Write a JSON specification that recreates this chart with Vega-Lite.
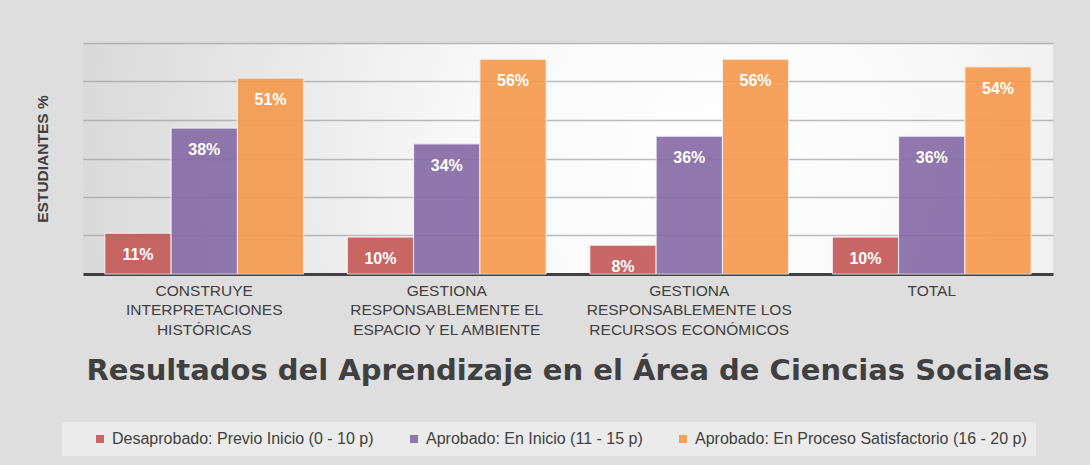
{
  "$schema": "https://vega.github.io/schema/vega-lite/v6.json",
  "autosize": {"type": "none"},
  "width": 970,
  "height": 231,
  "padding": {"left": 83, "top": 43, "right": 37, "bottom": 191},
  "background": "#dedede",
  "title": {
    "text": "Resultados del Aprendizaje en el Área de Ciencias Sociales",
    "orient": "bottom",
    "anchor": "middle",
    "font": "DejaVu Sans",
    "fontSize": 29,
    "fontWeight": "bold",
    "color": "#404040",
    "offset": -99
  },
  "config": {
    "view": {"stroke": null, "fill": {"gradient": "radial", "x1": 0.65, "y1": 0.5, "r1": 0, "x2": 0.65, "y2": 0.5, "r2": 0.75, "stops": [{"offset": 0, "color": "#ffffff"}, {"offset": 0.35, "color": "#f8f8f8"}, {"offset": 1, "color": "#d2d2d2"}]}},
    "font": "Liberation Sans"
  },
  "data": {
    "values": [
      {"comp": "CONSTRUYE|INTERPRETACIONES|HISTÓRICAS", "nivel": "Desaprobado: Previo Inicio (0 - 10 p)", "v": 0.106},
      {"comp": "CONSTRUYE|INTERPRETACIONES|HISTÓRICAS", "nivel": "Aprobado: En Inicio (11 - 15 p)", "v": 0.379},
      {"comp": "CONSTRUYE|INTERPRETACIONES|HISTÓRICAS", "nivel": "Aprobado: En Proceso Satisfactorio (16 - 20 p)", "v": 0.509},
      {"comp": "GESTIONA|RESPONSABLEMENTE EL|ESPACIO Y EL AMBIENTE", "nivel": "Desaprobado: Previo Inicio (0 - 10 p)", "v": 0.096},
      {"comp": "GESTIONA|RESPONSABLEMENTE EL|ESPACIO Y EL AMBIENTE", "nivel": "Aprobado: En Inicio (11 - 15 p)", "v": 0.338},
      {"comp": "GESTIONA|RESPONSABLEMENTE EL|ESPACIO Y EL AMBIENTE", "nivel": "Aprobado: En Proceso Satisfactorio (16 - 20 p)", "v": 0.558},
      {"comp": "GESTIONA|RESPONSABLEMENTE LOS|RECURSOS ECONÓMICOS", "nivel": "Desaprobado: Previo Inicio (0 - 10 p)", "v": 0.075},
      {"comp": "GESTIONA|RESPONSABLEMENTE LOS|RECURSOS ECONÓMICOS", "nivel": "Aprobado: En Inicio (11 - 15 p)", "v": 0.358},
      {"comp": "GESTIONA|RESPONSABLEMENTE LOS|RECURSOS ECONÓMICOS", "nivel": "Aprobado: En Proceso Satisfactorio (16 - 20 p)", "v": 0.558},
      {"comp": "TOTAL", "nivel": "Desaprobado: Previo Inicio (0 - 10 p)", "v": 0.096},
      {"comp": "TOTAL", "nivel": "Aprobado: En Inicio (11 - 15 p)", "v": 0.358},
      {"comp": "TOTAL", "nivel": "Aprobado: En Proceso Satisfactorio (16 - 20 p)", "v": 0.538}
    ]
  },
  "encoding": {
    "x": {
      "field": "comp", "type": "nominal", "sort": null,
      "scale": {"paddingInner": 0.18, "paddingOuter": 0.09},
      "axis": {
        "title": null, "labelAngle": 0, "labelExpr": "split(datum.label, '|')",
        "labelFontSize": 15.5, "labelColor": "#404040", "labelLineHeight": 19.5,
        "labelPadding": 9, "labelBaseline": "top", "ticks": false,
        "domainColor": "#404040", "domainWidth": 3, "labelLimit": 300
      }
    },
    "xOffset": {"field": "nivel", "type": "nominal", "sort": null, "scale": {"paddingInner": 0}},
    "y": {
      "field": "v", "type": "quantitative",
      "scale": {"domain": [0, 0.6], "nice": false},
      "axis": {
        "title": "ESTUDIANTES %", "titleFontSize": 15.5, "titleFontWeight": "bold",
        "titleColor": "#404040", "titlePadding": 33, "labels": false, "ticks": false,
        "domain": false, "values": [0, 0.1, 0.2, 0.3, 0.4, 0.5, 0.6],
        "gridColor": "#a0a0a0", "gridOpacity": 0.7, "gridWidth": 1.5
      }
    }
  },
  "layer": [
    {
      "mark": {"type": "bar", "opacity": 0.9, "stroke": "#f4f4f4", "strokeWidth": 1},
      "encoding": {
        "color": {
          "field": "nivel", "type": "nominal", "sort": null,
          "scale": {"range": ["#c45856", "#8569a6", "#f6994c"]},
          "legend": {
            "title": null, "orient": "none", "direction": "horizontal",
            "legendX": -21, "legendY": 379,
            "symbolType": "square", "symbolSize": 64, "symbolStrokeWidth": 0, "symbolOpacity": 0.9,
            "labelFontSize": 16, "labelColor": "#404040", "labelOffset": 4,
            "columnPadding": 11, "padding": 9, "symbolOffset": 21,
            "fillColor": "#ebebeb", "labelLimit": 400
          }
        }
      }
    },
    {
      "mark": {"type": "text", "dy": 22, "baseline": "middle", "fontSize": 16, "fontWeight": "bold", "color": "#ffffff"},
      "encoding": {"text": {"field": "v", "type": "quantitative", "format": ".0%"}}
    }
  ]
}
